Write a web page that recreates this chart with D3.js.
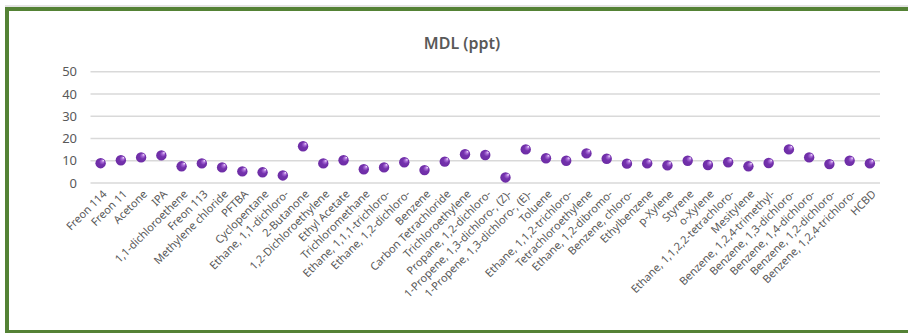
<!DOCTYPE html>
<html>
<head>
<meta charset="utf-8">
<script src="https://cdn.jsdelivr.net/npm/d3@7"></script>
<style>
  html, body { margin: 0; padding: 0; background: #ffffff; }
  svg { display: block; }
</style>
</head>
<body>
<svg id="chart" width="908" height="333"></svg>
<script>
// Compounds measured, in plotting order
const compounds = [
  "Freon 114", "Freon 11", "Acetone", "IPA", "1,1-dichloroethene", "Freon 113",
  "Methylene chloride", "PFTBA", "Cyclopentane", "Ethane, 1,1-dichloro-", "2-Butanone",
  "1,2-Dichloroethylene", "Ethyl Acetate", "Trichloromethane", "Ethane, 1,1,1-trichloro-",
  "Ethane, 1,2-dichloro-", "Benzene", "Carbon Tetrachloride", "Trichloroethylene",
  "Propane, 1,2-dichloro-", "1-Propene, 1,3-dichloro-, (Z)-", "1-Propene, 1,3-dichloro-, (E)-",
  "Toluene", "Ethane, 1,1,2-trichloro-", "Tetrachloroethylene", "Ethane, 1,2-dibromo-",
  "Benzene, chloro-", "Ethylbenzene", "p-Xylene", "Styrene", "o-Xylene",
  "Ethane, 1,1,2,2-tetrachloro-", "Mesitylene", "Benzene, 1,2,4-trimethyl-",
  "Benzene, 1,3-dichloro-", "Benzene, 1,4-dichloro-", "Benzene, 1,2-dichloro-",
  "Benzene, 1,2,4-trichloro-", "HCBD"
];

// Method detection limit for each compound, ppt
const mdl = [
  8.9, 10.2, 11.5, 12.4, 7.5, 8.8,
  7.0, 5.2, 4.8, 3.4, 16.5,
  8.8, 10.2, 6.2, 7.0,
  9.3, 5.8, 9.6, 12.9,
  12.6, 2.5, 15.1,
  11.1, 10.0, 13.3, 10.9,
  8.7, 8.8, 7.9, 10.0, 8.1,
  9.3, 7.5, 9.0,
  15.1, 11.5, 8.5,
  10.0, 8.8
];

const yTicks = [0, 10, 20, 30, 40, 50];
const chartTitle = "MDL (ppt)";

const svg = d3.select("#chart");
const font = "'Noto Sans', 'Open Sans', sans-serif";
const textColor = "#595959";

// Marker shading: purple sphere lit from the upper right
const defs = svg.append("defs");
const grad = defs.append("radialGradient")
  .attr("id", "dotShade")
  .attr("cx", "45%").attr("cy", "55%").attr("r", "60%")
  .attr("fx", "78%").attr("fy", "22%");
grad.append("stop").attr("offset", "0%").attr("stop-color", "#f3e6ff");
grad.append("stop").attr("offset", "22%").attr("stop-color", "#a86ad6");
grad.append("stop").attr("offset", "45%").attr("stop-color", "#7432ad");
grad.append("stop").attr("offset", "100%").attr("stop-color", "#6a2aa2");

// Frame around the chart area
svg.append("rect").attr("x", 0).attr("y", 0).attr("width", 908).attr("height", 333).attr("fill", "#ffffff");
svg.append("line").attr("x1", 5).attr("x2", 908).attr("y1", 6).attr("y2", 6)
  .attr("stroke", "#c8c8c8").attr("stroke-width", 1);
svg.append("path")
  .attr("d", "M908,9 H7 V332 H908")
  .attr("fill", "none")
  .attr("stroke", "#548235")
  .attr("stroke-width", 4);

const x = d3.scaleBand().domain(compounds).range([90.5, 880]).padding(0);
const y = d3.scaleLinear().domain([0, 50]).range([183, 71.7]);

// Horizontal gridlines
svg.append("g")
  .selectAll("line")
  .data(yTicks)
  .join("line")
  .attr("x1", 90.5).attr("x2", 880)
  .attr("y1", d => y(d)).attr("y2", d => y(d))
  .attr("stroke", "#d9d9d9")
  .attr("stroke-width", 1.6);

// Value axis labels
const yAxis = d3.axisLeft(y).tickValues(yTicks).tickSize(0).tickPadding(0);
const gy = svg.append("g").attr("transform", "translate(77,0)").call(yAxis);
gy.select(".domain").remove();
gy.selectAll("text")
  .attr("font-family", font)
  .attr("font-size", 13)
  .attr("fill", textColor);

// Category axis labels, slanted
const xAxis = d3.axisBottom(x).tickSize(0).tickPadding(0);
const gx = svg.append("g").attr("transform", "translate(0,183)").call(xAxis);
gx.select(".domain").remove();
gx.selectAll("text")
  .attr("font-family", font)
  .attr("font-size", 11)
  .attr("fill", textColor)
  .attr("text-anchor", "end")
  .attr("dy", "0.35em")
  .attr("transform", "translate(4,9) rotate(-45)");

// Title
svg.append("text")
  .attr("x", 462).attr("y", 49)
  .attr("text-anchor", "middle")
  .attr("font-family", font)
  .attr("font-size", 16)
  .attr("font-weight", "600")
  .attr("fill", textColor)
  .text(chartTitle);

// Data markers
svg.append("g")
  .selectAll("circle")
  .data(compounds.map((c, i) => ({ c, v: mdl[i] })))
  .join("circle")
  .attr("cx", d => x(d.c) + x.bandwidth() / 2)
  .attr("cy", d => y(d.v))
  .attr("r", 5.2)
  .attr("fill", "url(#dotShade)");
</script>
</body>
</html>
